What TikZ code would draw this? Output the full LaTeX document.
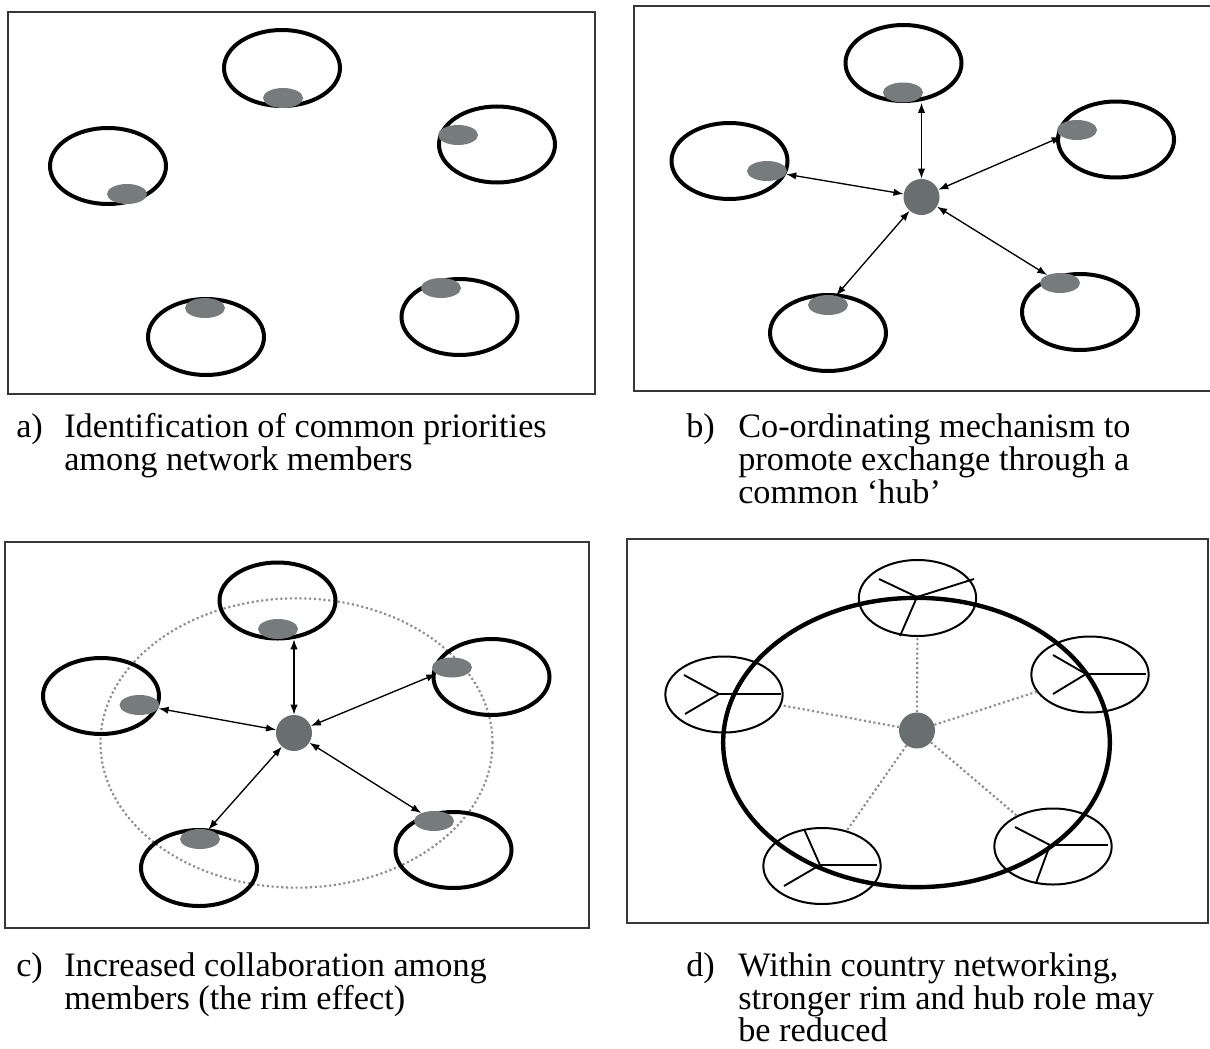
\documentclass[tikz,border=0pt]{standalone}
\usepackage{fontspec}
\setmainfont{Liberation Serif}
\usetikzlibrary{shapes.geometric,arrows.meta,calc}
\definecolor{blobgray}{RGB}{118,124,124}
\definecolor{hubgray}{RGB}{105,111,111}
\definecolor{framegray}{RGB}{55,55,55}
\definecolor{dotgray}{RGB}{140,140,140}
\begin{document}
\begin{tikzpicture}[x=0.75pt,y=-0.75pt,
  member/.style={ellipse, draw, line width=3pt, minimum width=87pt, minimum height=57pt, inner sep=0pt},
  blob/.style={ellipse, fill=blobgray, minimum width=30pt, minimum height=15pt, inner sep=0pt},
  hub/.style={circle, fill=hubgray, minimum size=27pt, inner sep=0pt},
  country/.style={ellipse, draw, line width=1.5pt, minimum width=88pt, minimum height=57pt, inner sep=0pt},
  rimline/.style={ellipse, draw, line width=3.3pt, minimum width=290pt, minimum height=217pt, inner sep=0pt},
  rimdots/.style={ellipse, draw=dotgray, dotted, line width=1.6pt, minimum width=294pt, minimum height=217pt, inner sep=0pt},
  link/.style={{Latex[length=7.5pt,width=5.5pt]}-{Latex[length=7.5pt,width=5.5pt]}, line width=1pt},
  frame/.style={draw=framegray, line width=1.6pt},
  spoke/.style={line width=1.4pt},
  hspoke/.style={line width=2.2pt},
  dspoke/.style={draw=dotgray, dotted, line width=1.6pt},
  captext/.style={anchor=base west, inner sep=0pt, font=\fontsize{25.7pt}{25pt}\selectfont}
]
\useasboundingbox (0,0) rectangle (1210,1049);

% ---------------- panel a ----------------
\draw[frame] (8,12) rectangle (595,394);
\node[member] (A1) at (282,68) {};
\node[member] (A2) at (108,166) {};
\node[member] (A3) at (497,144.5) {};
\node[member] (A4) at (206,337) {};
\node[member] (A5) at (459.5,317) {};
\node[blob] (A1b) at (283,98) {};
\node[blob] (A2b) at (127,194) {};
\node[blob] (A3b) at (458,135) {};
\node[blob] (A4b) at (205,308) {};
\node[blob] (A5b) at (441,288) {};

% ---------------- panel b ----------------
\draw[frame] (1210,6) -- (634,6) -- (634,391) -- (1210,391);
\node[member] (B1) at (903.5,63) {};
\node[member] (B2) at (729.5,161) {};
\node[member] (B3) at (1116,139.5) {};
\node[member] (B4) at (828,333) {};
\node[member] (B5) at (1080,312) {};
\node[blob] (B1b) at (903,92.5) {};
\node[blob] (B2b) at (767,171) {};
\node[blob] (B3b) at (1077,130) {};
\node[blob] (B4b) at (828,305) {};
\node[blob] (B5b) at (1060,283) {};
\node[hub] (hubB) at (921.5,197) {};
\draw[link] (hubB.north) -- (hubB.north |- B1b.south);
\draw[link] (hubB) -- (B2b);
\draw[link] (hubB) -- (B3b);
\draw[link] (hubB) -- (B4b);
\draw[link] (hubB) -- (B5b);

% ---------------- panel c ----------------
\draw[frame] (5,542) rectangle (589,928);
\node[rimdots] (rimC) at (296.5,743) {};
\node[member] (C1) at (277.5,600.5) {};
\node[member] (C2) at (101,696) {};
\node[member] (C3) at (491.5,677) {};
\node[member] (C4) at (199,868) {};
\node[member] (C5) at (453.5,850) {};
\node[blob] (C1b) at (278,629) {};
\node[blob] (C2b) at (139.5,705) {};
\node[blob] (C3b) at (452,667.5) {};
\node[blob] (C4b) at (200,839) {};
\node[blob] (C5b) at (434,821) {};
\node[hub] (hubC) at (294,733) {};
\draw[link] (hubC.north) -- (hubC.north |- C1b.south);
\draw[link] (hubC) -- (C2b);
\draw[link] (hubC) -- (C3b);
\draw[link] (hubC) -- (C4b);
\draw[link] (hubC) -- (C5b);

% ---------------- panel d ----------------
\draw[frame] (627,539) rectangle (1208,923);
\node[rimline] (rimD) at (916.5,742.5) {};
\node[country] (D1) at (917.5,598) {};
\node[country] (D2) at (724,694.5) {};
\node[country] (D3) at (1090,674.5) {};
\node[country] (D4) at (822,866) {};
\node[country] (D5) at (1053,846.5) {};
\node[hub] (hubD) at (917,730.5) {};
\draw[dspoke] (hubD) -- (D1);
\draw[dspoke] (hubD) -- (D2);
\draw[dspoke] (hubD) -- (D3);
\draw[dspoke] (hubD) -- (D4);
\draw[dspoke] (hubD) -- (D5);
% spokes inside the country circles
\draw[spoke] (879,579) -- (917,597) -- (974,579);
\draw[spoke] (917,597) -- (900,636);
\draw[spoke] (684,675) -- (719,694) -- (685,714);
\draw[hspoke] (719,694) -- (781,694);
\draw[spoke] (1053,655) -- (1086,674) -- (1053,694);
\draw[hspoke] (1086,674) -- (1146,674);
\draw[spoke] (804,829) -- (820,865) -- (784,886);
\draw[hspoke] (820,865) -- (877,865);
\draw[spoke] (1015,827) -- (1050,845) -- (1036,883);
\draw[hspoke] (1050,845) -- (1108,845);

% ---------------- captions ----------------
\node[captext] (la) at (16,437) {a)};
\node[captext] (ta1) at (64,437) {Identification of common priorities};
\node[captext] (ta2) at (64,470) {among network members};
\node[captext] (lb) at (686,437) {b)};
\node[captext] (tb1) at (738,437) {Co-ordinating mechanism to};
\node[captext] (tb2) at (738,470) {promote exchange through a};
\node[captext] (tb3) at (738,503) {common ‘hub’};
\node[captext] (lc) at (16,976) {c)};
\node[captext] (tc1) at (64,976) {Increased collaboration among};
\node[captext] (tc2) at (64,1009) {members (the rim effect)};
\node[captext] (ld) at (686,976) {d)};
\node[captext] (td1) at (738,976) {Within country networking,};
\node[captext] (td2) at (738,1009) {stronger rim and hub role may};
\node[captext] (td3) at (738,1041) {be reduced};
\end{tikzpicture}
\end{document}
